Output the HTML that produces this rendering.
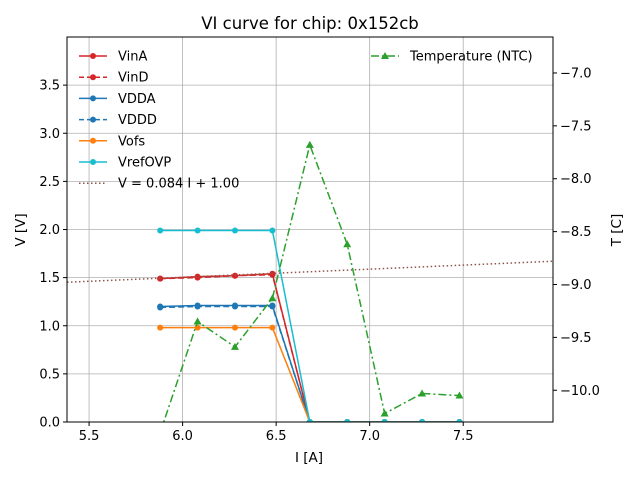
<!DOCTYPE html>
<html><head><meta charset="utf-8"><style>
body{margin:0;background:#fff}
svg text{font-family:"DejaVu Sans","Liberation Sans",sans-serif;fill:#000}
</style></head><body>
<svg id="chart" width="640" height="480" xmlns="http://www.w3.org/2000/svg">
<defs><clipPath id="clip"><rect x="67" y="37" width="486" height="385"/></clipPath></defs>
<text x="310" y="29" font-size="16.5" text-anchor="middle">VI curve for chip: 0x152cb</text>
<g id="grid"></g>
<g id="series" clip-path="url(#clip)"></g>
<rect x="67" y="37" width="486" height="385" fill="none" stroke="#000" stroke-width="1"/>
<g id="axes"></g>
<text x="309" y="462" font-size="13.5" text-anchor="middle">I [A]</text>
<text transform="translate(25,230) rotate(-90)" font-size="13.5" text-anchor="middle">V [V]</text>
<text transform="translate(621,230) rotate(-90)" font-size="13.5" text-anchor="middle">T [C]</text>
<g id="legend"></g>
</svg>
<script>
const currents=[5.88,6.08,6.28,6.48,6.68,6.88,7.08,7.28,7.48];
const vinA=[1.49,1.51,1.52,1.54,0,0,0,0,0];
const vinD=[1.49,1.50,1.52,1.53,0,0,0,0,0];
const vdda=[1.20,1.21,1.21,1.21,0,0,0,0,0];
const vddd=[1.19,1.20,1.20,1.20,0,0,0,0,0];
const vofs=[0.98,0.98,0.98,0.98,0,0,0,0,0];
const vref=[1.99,1.99,1.99,1.99,0,0,0,0,0];
const temps=[-10.4,-9.35,-9.59,-9.13,-7.68,-8.62,-10.22,-10.03,-10.05];
const fitSlope=0.084, fitIntercept=1.00;
const xTicks=[5.5,6.0,6.5,7.0,7.5];
const yTicks=[0,0.5,1.0,1.5,2.0,2.5,3.0,3.5];
const tTicks=[-7.0,-7.5,-8.0,-8.5,-9.0,-9.5,-10.0];
const X0=67,X1=553,Y0=422,Y1=37;
const xMin=5.382,xMax=7.98,yMin=0,yMax=4.0,tMin=-10.30,tMax=-6.66;
const sx=v=>X0+(v-xMin)/(xMax-xMin)*(X1-X0);
const sy=v=>Y0-(v-yMin)/(yMax-yMin)*(Y0-Y1);
const st=v=>Y0-(v-tMin)/(tMax-tMin)*(Y0-Y1);
const NS="http://www.w3.org/2000/svg";
function mk(tag,attrs,parent){const e=document.createElementNS(NS,tag);for(const k in attrs)e.setAttribute(k,attrs[k]);parent.appendChild(e);return e;}
const grid=document.getElementById('grid'),axes=document.getElementById('axes'),ser=document.getElementById('series'),leg=document.getElementById('legend');
xTicks.forEach(t=>{const x=sx(t);
 const g=mk('line',{x1:x,x2:x,y1:Y1,y2:Y0,stroke:'#b0b0b0','stroke-width':0.8},grid);
 
 
 mk('line',{x1:x,x2:x,y1:Y0,y2:Y0+4,stroke:'#000'},axes);
 const l=mk('text',{x:x,y:Y0+18,'font-size':13,'text-anchor':'middle'},axes);l.textContent=t.toFixed(1);
 
 });
yTicks.forEach(t=>{const y=sy(t);
 const g=mk('line',{x1:X0,x2:X1,y1:y,y2:y,stroke:'#b0b0b0','stroke-width':0.8},grid);
 
 
 mk('line',{x1:X0-4,x2:X0,y1:y,y2:y,stroke:'#000'},axes);
 const l=mk('text',{x:X0-7,y:y+4.5,'font-size':13,'text-anchor':'end'},axes);l.textContent=t.toFixed(1);
 
 });
tTicks.forEach(t=>{const y=st(t);
 mk('line',{x1:X1,x2:X1+4,y1:y,y2:y,stroke:'#000'},axes);
 const l=mk('text',{x:X1+7,y:y+4.5,'font-size':13},axes);l.textContent='\u2212'+Math.abs(t).toFixed(1);
 
 });
const series=[['vina',vinA,'#d62728',''],['vind',vinD,'#d62728','6,3'],['vdda',vdda,'#1f77b4',''],['vddd',vddd,'#1f77b4','6,3'],['vofs',vofs,'#ff7f0e',''],['vrefovp',vref,'#17becf','']];
series.forEach(([n,vals,c,d])=>{
 const p=mk('polyline',{points:currents.map((x,i)=>sx(x)+','+sy(vals[i])).join(' '),fill:'none',stroke:c,'stroke-width':1.5,'stroke-dasharray':d},ser);
 
 
 currents.forEach((x,i)=>{const m=mk('circle',{cx:sx(x),cy:sy(vals[i]),r:3,fill:c},ser);
 
 });
});
const f=mk('line',{x1:sx(xMin),y1:sy(fitSlope*xMin+fitIntercept),x2:sx(xMax),y2:sy(fitSlope*xMax+fitIntercept),stroke:'#8c564b','stroke-width':1.5,'stroke-dasharray':'1.5,2.5'},ser);


const tp=mk('polyline',{points:currents.map((x,i)=>sx(x)+','+st(temps[i])).join(' '),fill:'none',stroke:'#2ca02c','stroke-width':1.5,'stroke-dasharray':'8,3,2,3'},ser);


currents.forEach((x,i)=>{const X=sx(x),Y=st(temps[i]);
 const m=mk('path',{d:`M${X},${Y-4} L${X+4},${Y+3} L${X-4},${Y+3}Z`,fill:'#2ca02c'},ser);
 
 });
const items=[['VinA','#d62728','','c'],['VinD','#d62728','5,3','c'],['VDDA','#1f77b4','','c'],['VDDD','#1f77b4','5,3','c'],['Vofs','#ff7f0e','','c'],['VrefOVP','#17becf','','c'],['V = 0.084 I + 1.00','#8c564b','1.5,2.5','n']];
items.forEach(([t,c,d,m],i)=>{const y=56+i*21.2;
 mk('line',{x1:79,x2:107,y1:y,y2:y,stroke:c,'stroke-width':1.5,'stroke-dasharray':d},leg);
 if(m==='c')mk('circle',{cx:93,cy:y,r:3,fill:c},leg);
 const l=mk('text',{x:118,y:y+4.5,'font-size':13},leg);l.textContent=t;
 
 });
mk('line',{x1:371,x2:399,y1:56,y2:56,stroke:'#2ca02c','stroke-width':1.5,'stroke-dasharray':'8,3,2,3'},leg);
mk('path',{d:'M385,52 L389,59 L381,59Z',fill:'#2ca02c'},leg);
const tl=mk('text',{x:410,y:60.5,'font-size':13},leg);tl.textContent='Temperature (NTC)';


</script>
</body></html>
